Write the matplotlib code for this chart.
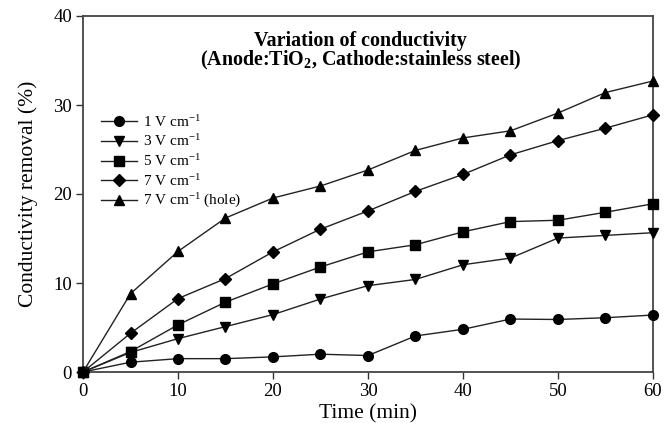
import numpy as np
import matplotlib
matplotlib.use("Agg")
import matplotlib.pyplot as plt

plt.rcParams['font.family'] = ['Liberation Serif', 'DejaVu Serif']
plt.rcParams['mathtext.fontset'] = 'custom'
plt.rcParams['mathtext.rm'] = 'Liberation Serif'
plt.rcParams['mathtext.it'] = 'Liberation Serif:italic'
plt.rcParams['mathtext.bf'] = 'Liberation Serif:bold'

# Data
time = [0, 5, 10, 15, 20, 25, 30, 35, 40, 45, 50, 55, 60]
v1 = [0, 1.1, 1.5, 1.5, 1.7, 2.0, 1.85, 4.05, 4.8, 5.95, 5.9, 6.1, 6.4]
v3 = [0, 2.2, 3.75, 5.1, 6.45, 8.2, 9.7, 10.4, 12.05, 12.8, 15.05, 15.35, 15.65]
v5 = [0, 2.3, 5.3, 7.85, 9.9, 11.8, 13.5, 14.3, 15.75, 16.9, 17.05, 17.95, 18.9]
v7 = [0, 4.35, 8.25, 10.5, 13.5, 16.05, 18.1, 20.3, 22.2, 24.4, 26.0, 27.4, 28.9]
v7_hole = [0, 8.8, 13.55, 17.3, 19.55, 20.9, 22.7, 24.9, 26.3, 27.1, 29.1, 31.4, 32.7]

labels = [r'1 V cm$^{-1}$', r'3 V cm$^{-1}$', r'5 V cm$^{-1}$',
          r'7 V cm$^{-1}$', r'7 V cm$^{-1}$ (hole)']
markers = ['o', 'v', 's', 'D', '^']
sizes = [7, 7, 6.5, 6, 7]

fig = plt.figure(figsize=(6.65, 4.23), dpi=100)
ax = fig.add_axes([83/665, 1-372/423, (653-83)/665, (372-16)/423])

for y, lab, m, s in zip([v1, v3, v5, v7, v7_hole], labels, markers, sizes):
    ax.plot(time, y, color='#222222', lw=1.0, marker=m, ms=s,
            mfc='black', mec='black', label=lab, clip_on=False, zorder=3)

ax.set_xlim(0, 60)
ax.set_ylim(0, 40)
ax.set_xticks(range(0, 61, 10))
ax.set_yticks(range(0, 41, 10))
ax.tick_params(direction='out', length=5, width=1, labelsize=13.5, color='#333333',
               top=False, right=False, pad=3)
for sp in ax.spines.values():
    sp.set_color('#444444')
    sp.set_linewidth(1.3)

ax.set_xlabel('Time (min)', fontsize=15.5, labelpad=3)
ax.set_ylabel('Conductivity removal (%)', fontsize=15.5, labelpad=11)

ax.text(0.487, 0.958, 'Variation of conductivity', transform=ax.transAxes,
        ha='center', va='top', fontsize=14.4, fontweight='bold')
ax.text(0.487, 0.907, r'(Anode:TiO$_\mathbf{2}$, Cathode:stainless steel)',
        transform=ax.transAxes, ha='center', va='top', fontsize=14.4,
        fontweight='bold')

ax.legend(loc='upper left', bbox_to_anchor=(0.012, 0.755), frameon=False,
          fontsize=11, handlelength=2.4, handletextpad=0.4, labelspacing=0.24,
          borderaxespad=0.3)

fig.savefig('out.png', dpi=100)
